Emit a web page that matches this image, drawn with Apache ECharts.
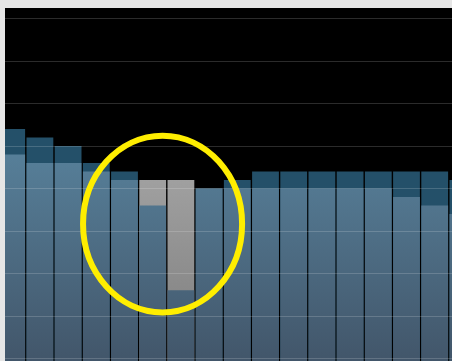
<!DOCTYPE html>
<html>
<head>
<meta charset="utf-8">
<script src="https://cdn.jsdelivr.net/npm/echarts@6/dist/echarts.min.js"></script>
<style>
  html, body { margin: 0; padding: 0; width: 452px; height: 361px; overflow: hidden; background: #e6e6e6; }
  #frame { position: absolute; left: 5px; top: 8px; width: 447px; height: 353px; background: #000; overflow: hidden; }
  #chart { position: absolute; left: -20px; top: 0; width: 520px; height: 420px; }
</style>
</head>
<body>
<div id="frame"><div id="chart"></div></div>
<script>
// Periods along the x axis
const periods = ['P01', 'P02', 'P03', 'P04', 'P05', 'P06', 'P07', 'P08', 'P09',
                 'P10', 'P11', 'P12', 'P13', 'P14', 'P15', 'P16', 'P17'];
// Reference level per period (dark bars behind)
const capacity = [64, 62, 60, 56, 54, 52, 52, 50, 52, 54, 54, 54, 54, 54, 54, 54, 52];
// Measured level per period (light bars in front)
const actual   = [58, 56, 56, 54, 52, 46, 26, 50, 50, 50, 50, 50, 50, 50, 48, 46, 44];
// Periods whose shortfall is highlighted in grey
const flagged  = [5, 6];
// Value axis ticks
const yTicks = { min: 0, max: 90, interval: 10 };
// Highlight ring: centre (category index, value) and half-extent (categories, value units)
const focusCenter = [5.35, 41.6];
const focusHalf = [2.82, 20.8];

const chart = echarts.init(document.getElementById('chart'), null, { renderer: 'canvas' });

const lightFill = new echarts.graphic.LinearGradient(0, 140, 0, 353, [
  { offset: 0, color: '#57809a' },
  { offset: 1, color: '#42566a' }
], true);
const greyFill = new echarts.graphic.LinearGradient(0, 140, 0, 353, [
  { offset: 0, color: '#a6a6a6' },
  { offset: 1, color: '#7c7c7c' }
], true);

chart.setOption({
  animation: false,
  backgroundColor: '#000',
  grid: { left: 12.6, width: 479.4, top: 10.5, height: 382.3, containLabel: false },
  xAxis: {
    type: 'category',
    data: periods,
    axisLine: { show: false },
    axisTick: { show: false },
    axisLabel: { show: false },
    splitLine: { show: false }
  },
  yAxis: {
    type: 'value',
    min: yTicks.min,
    max: yTicks.max,
    interval: yTicks.interval,
    z: 5,
    axisLine: { show: false },
    axisTick: { show: false },
    axisLabel: { show: false },
    splitLine: { show: true, lineStyle: { color: 'rgba(255,255,255,0.17)', width: 1 } }
  },
  series: [
    {
      name: 'capacity',
      type: 'bar',
      barWidth: 26.8,
      barGap: '-100%',
      z: 1,
      itemStyle: { color: '#245069' },
      data: capacity.map((v, i) => flagged.includes(i)
        ? { value: v, itemStyle: { color: greyFill } }
        : v)
    },
    {
      name: 'actual',
      type: 'bar',
      barWidth: 26.8,
      barGap: '-100%',
      z: 2,
      itemStyle: { color: lightFill },
      data: actual
    }
  ]
});

// Place the highlight ring from axis coordinates
const pA = chart.convertToPixel({ gridIndex: 0 }, [periods[5], 0]);
const pB = chart.convertToPixel({ gridIndex: 0 }, [periods[6], 0]);
const slot = pB[0] - pA[0];
const cx = pA[0] + (focusCenter[0] - 5) * slot;
const cy = chart.convertToPixel({ gridIndex: 0 }, [periods[5], focusCenter[1]])[1];
const yTop = chart.convertToPixel({ gridIndex: 0 }, [periods[5], focusCenter[1] + focusHalf[1]])[1];
chart.setOption({
  graphic: [{
    type: 'ellipse',
    z: 100,
    shape: { cx: cx, cy: cy, rx: focusHalf[0] * slot, ry: cy - yTop },
    style: { fill: null, stroke: '#ffee00', lineWidth: 6 }
  }]
});
</script>
</body>
</html>
